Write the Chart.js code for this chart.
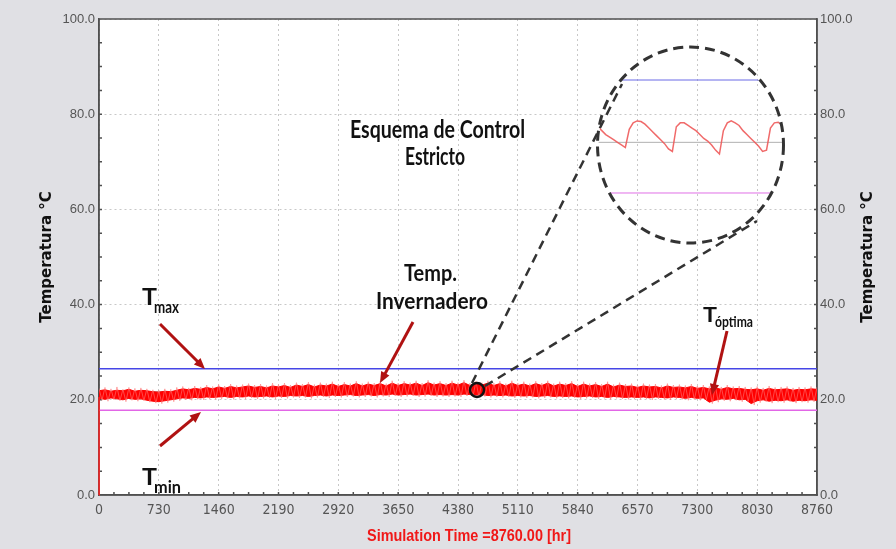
<!DOCTYPE html>
<html>
<head>
<meta charset="utf-8">
<script src="https://cdn.jsdelivr.net/npm/chart.js@4.4.1/dist/chart.umd.min.js"></script>
<style>
  html, body { margin: 0; padding: 0; background: #e0e0e4; }
  #wrap { position: relative; width: 896px; height: 549px; }
  #main { position: absolute; left: 0; top: 0; }
  #zoom { position: absolute; left: 592px; top: 40px; }
</style>
</head>
<body>
<div id="wrap">
  <canvas id="main" width="896" height="549"></canvas>
  <canvas id="zoom" width="200" height="210"></canvas>
</div>
<script>
// greenhouse temperature, one sample every 73 h (envelope of the hourly trace)
const sampleStep = 73;
const tempHigh = [
  21.9, 22.1, 21.8, 22.0, 21.9, 22.2, 21.8, 22.0, 21.9, 21.7,
  21.6, 21.8, 21.7, 22.0, 22.3, 22.1, 22.4, 22.2, 22.6, 22.3,
  22.7, 22.4, 22.8, 22.5, 22.7, 22.9, 22.6, 22.8, 22.5, 22.9,
  22.7, 23.0, 22.6, 23.1, 22.8, 23.2, 22.7, 23.1, 22.9, 23.3,
  22.8, 23.2, 22.9, 23.4, 22.9, 23.3, 23.0, 23.4, 22.9, 23.5,
  23.0, 23.4, 23.1, 23.5, 23.0, 23.6, 23.1, 23.4, 23.0, 23.5,
  23.1, 23.6, 23.0, 23.4, 23.1, 23.5, 23.0, 23.4, 22.9, 23.5,
  23.0, 23.3, 22.9, 23.4, 23.0, 23.5, 22.9, 23.3, 23.0, 23.4,
  22.8, 23.3, 22.9, 23.2, 22.8, 23.3, 22.7, 23.1, 22.8, 22.9,
  22.6, 22.9, 22.7, 22.8, 22.5, 22.9, 22.6, 22.7, 22.5, 22.8,
  22.4, 22.6, 22.3, 22.5, 22.2, 22.6, 22.3, 22.4, 22.2, 22.1,
  22.3, 22.0, 22.4, 22.1, 22.2, 22.3, 22.0, 22.2, 22.1, 22.3, 22.2
];
const tempLow = [
  20.3, 20.1, 20.4, 20.2, 20.0, 20.3, 20.1, 20.2, 19.9, 19.7,
  19.6, 19.8, 20.0, 20.2, 20.4, 20.3, 20.5, 20.4, 20.6, 20.5,
  20.6, 20.7, 20.5, 20.7, 20.6, 20.8, 20.6, 20.7, 20.8, 20.6,
  20.8, 20.7, 20.9, 20.8, 20.9, 20.7, 20.9, 21.0, 20.8, 21.0,
  20.9, 21.0, 21.1, 20.9, 21.0, 21.1, 20.9, 21.1, 21.0, 21.2,
  21.0, 21.1, 21.2, 21.0, 21.1, 21.2, 21.0, 21.1, 21.0, 21.1,
  21.0, 21.2, 21.1, 21.0, 21.1, 20.9, 21.0, 20.9, 21.0, 20.8,
  20.9, 20.8, 20.9, 20.7, 20.8, 20.9, 20.7, 20.8, 20.7, 20.8,
  20.6, 20.7, 20.8, 20.6, 20.7, 20.5, 20.7, 20.6, 20.5, 20.6,
  20.5, 20.6, 20.4, 20.6, 20.5, 20.4, 20.6, 20.5, 20.3, 20.5,
  20.3, 20.4, 19.5, 19.9, 20.2, 20.1, 20.3, 20.0, 20.1, 19.2,
  19.8, 20.0, 19.7, 19.9, 19.8, 20.0, 19.7, 19.9, 19.8, 20.0, 19.9
];
// lighter spikes of the hourly trace (daily peaks and dips)
const spikeHigh = [
  22.4, 22.6, 22.3, 22.7, 22.2, 22.6, 22.4, 22.5, 22.3, 22.1,
  22.0, 22.3, 22.2, 22.6, 22.8, 22.5, 22.9, 22.7, 23.1, 22.8,
  23.2, 22.9, 23.3, 23.0, 23.2, 23.4, 23.1, 23.3, 23.0, 23.5,
  23.2, 23.5, 23.1, 23.6, 23.3, 23.7, 23.2, 23.6, 23.4, 23.8,
  23.3, 23.7, 23.4, 23.9, 23.4, 23.8, 23.5, 23.9, 23.4, 24.0,
  23.5, 23.9, 23.6, 24.0, 23.5, 24.1, 23.6, 23.9, 23.5, 24.0,
  23.6, 24.1, 23.5, 23.9, 23.6, 24.0, 23.5, 23.9, 23.4, 24.0,
  23.5, 23.8, 23.4, 23.9, 23.5, 24.0, 23.4, 23.8, 23.5, 23.9,
  23.3, 23.8, 23.4, 23.7, 23.3, 23.8, 23.2, 23.6, 23.3, 23.4,
  23.1, 23.4, 23.2, 23.3, 23.0, 23.4, 23.1, 23.2, 23.0, 23.3,
  22.9, 23.1, 22.8, 23.0, 22.7, 23.1, 22.8, 22.9, 22.7, 22.6,
  22.8, 22.5, 22.9, 22.6, 22.7, 22.8, 22.5, 22.7, 22.6, 22.8, 22.7
];
const spikeLow = [
  19.9, 19.7, 20.0, 19.8, 19.6, 19.9, 19.7, 19.8, 19.5, 19.3,
  19.2, 19.4, 19.6, 19.8, 20.0, 19.9, 20.1, 20.0, 20.2, 20.1,
  20.2, 20.3, 20.1, 20.3, 20.2, 20.4, 20.2, 20.3, 20.4, 20.2,
  20.4, 20.3, 20.5, 20.4, 20.5, 20.3, 20.5, 20.6, 20.4, 20.6,
  20.5, 20.6, 20.7, 20.5, 20.6, 20.7, 20.5, 20.7, 20.6, 20.8,
  20.6, 20.7, 20.8, 20.6, 20.7, 20.8, 20.6, 20.7, 20.6, 20.7,
  20.6, 20.8, 20.7, 20.6, 20.7, 20.5, 20.6, 20.5, 20.6, 20.4,
  20.5, 20.4, 20.5, 20.3, 20.4, 20.5, 20.3, 20.4, 20.3, 20.4,
  20.2, 20.3, 20.4, 20.2, 20.3, 20.1, 20.3, 20.2, 20.1, 20.2,
  20.1, 20.2, 20.0, 20.2, 20.1, 20.0, 20.2, 20.1, 19.9, 20.1,
  19.9, 20.0, 19.2, 19.5, 19.8, 19.7, 19.9, 19.6, 19.7, 18.9,
  19.4, 19.6, 19.3, 19.5, 19.4, 19.6, 19.3, 19.5, 19.4, 19.6, 19.5
];
// simulation starts from 0 °C
const startHours = [0, 1];
const startTemps = [0, 20.6];

const tMax = 26.5;
const tMin = 17.8;
const tOpt = 21.7;
const simHours = 8760;

// zoomed view: four days around hour 4600
const insetHours = [
  0, 2, 4, 6, 8, 10, 12, 14, 16, 18, 20, 22, 24, 26, 28, 30,
  32, 34, 36, 38, 40, 42, 44, 46, 48, 50, 52, 54, 56, 58, 60, 62,
  64, 66, 68, 70, 72, 74, 76, 78, 80, 82, 84, 86, 88, 90, 92, 94
];
const insetTemps = [
  22.9, 22.6, 22.3, 22.1, 21.9, 21.7, 21.5, 21.3, 22.7, 23.2, 23.35, 23.3, 23.1, 22.8, 22.5, 22.2,
  21.9, 21.6, 21.2, 21.0, 22.9, 23.2, 23.2, 23.0, 22.8, 22.6, 22.3, 22.0, 21.8, 21.5, 21.1, 20.8,
  22.6, 23.2, 23.35, 23.2, 23.0, 22.6, 22.3, 22.0, 21.7, 21.4, 21.0, 21.1, 22.8, 23.2, 23.25, 23.0
];

const sampleHours = tempHigh.map((_, i) => i * sampleStep);
const pts = (xs, ys) => xs.map((x, i) => ({ x, y: ys[i] }));
const flat = (v, x0, x1) => [{ x: x0, y: v }, { x: x1, y: v }];
// peaks and dips alternate half a step apart, like the hourly trace
const spikeTrace = [];
sampleHours.forEach((h, i) => {
  spikeTrace.push({ x: h, y: spikeHigh[i] });
  spikeTrace.push({ x: h + sampleStep / 2, y: spikeLow[i] });
});

const axisColor = '#505050';
const tickColor = '#555555';
const darkRed = '#b01212';
const narrowFont = '"Liberation Sans Narrow", "DejaVu Sans Condensed", "Liberation Sans", sans-serif';

function fitText(ctx, txt, left, base, width, size, color, family) {
  ctx.save();
  ctx.font = 'bold ' + size + 'px ' + (family || 'Lato, "Liberation Sans", sans-serif');
  const m = ctx.measureText(txt).width;
  ctx.translate(left, base);
  ctx.scale(width / m, 1);
  ctx.textAlign = 'left';
  ctx.textBaseline = 'alphabetic';
  ctx.fillStyle = color || '#111';
  ctx.fillText(txt, 0, 0);
  ctx.restore();
}

function arrow(ctx, x1, y1, x2, y2) {
  const a = Math.atan2(y2 - y1, x2 - x1);
  const h = 12;
  ctx.save();
  ctx.strokeStyle = darkRed;
  ctx.fillStyle = darkRed;
  ctx.lineWidth = 3;
  ctx.beginPath();
  ctx.moveTo(x1, y1);
  ctx.lineTo(x2 - Math.cos(a) * h * 0.7, y2 - Math.sin(a) * h * 0.7);
  ctx.stroke();
  ctx.beginPath();
  ctx.moveTo(x2, y2);
  ctx.lineTo(x2 - h * Math.cos(a - 0.4), y2 - h * Math.sin(a - 0.4));
  ctx.lineTo(x2 - h * Math.cos(a + 0.4), y2 - h * Math.sin(a + 0.4));
  ctx.closePath();
  ctx.fill();
  ctx.restore();
}

const decor = {
  id: 'decor',
  beforeDraw(chart) {
    const { ctx, chartArea: a } = chart;
    ctx.save();
    ctx.fillStyle = '#e0e0e4';
    ctx.fillRect(0, 0, chart.width, chart.height);
    ctx.fillStyle = '#ffffff';
    ctx.fillRect(a.left, a.top, a.right - a.left, a.bottom - a.top);
    ctx.restore();
  },
  beforeDatasetsDraw(chart) {
    const { ctx, chartArea: a } = chart;
    const xs = chart.scales.x, ys = chart.scales.y;
    ctx.save();
    // frame and minor ticks
    ctx.strokeStyle = axisColor;
    ctx.lineWidth = 1.5;
    ctx.strokeRect(a.left, a.top, a.right - a.left, a.bottom - a.top);
    ctx.beginPath();
    for (let v = 5; v < 100; v += 5) {
      const py = ys.getPixelForValue(v);
      ctx.moveTo(a.left, py); ctx.lineTo(a.left + 3, py);
      ctx.moveTo(a.right - 3, py); ctx.lineTo(a.right, py);
    }
    for (let h = 182.5; h < simHours; h += 182.5) {
      const px = xs.getPixelForValue(h);
      ctx.moveTo(px, a.bottom); ctx.lineTo(px, a.bottom - 3);
    }
    ctx.stroke();
    ctx.restore();
  },
  afterDraw(chart) {
    const { ctx, chartArea: a } = chart;
    // right axis title (reads bottom to top like the left one)
    ctx.save();
    ctx.translate(868, (a.top + a.bottom) / 2);
    ctx.rotate(-Math.PI / 2);
    ctx.font = 'bold 15px "DejaVu Sans", sans-serif';
    ctx.fillStyle = '#111';
    ctx.textAlign = 'center';
    ctx.textBaseline = 'middle';
    ctx.fillText('Temperatura °C', 0, 0);
    ctx.restore();

    // x axis title, condensed red
    fitText(ctx, 'Simulation Time =8760.00 [hr]', 367, 541, 204, 16, '#f01818', '"Liberation Sans", sans-serif');

    // labels
    fitText(ctx, 'Esquema de Control', 350, 138, 175, 25);
    fitText(ctx, 'Estricto', 405, 165, 60, 25);
    fitText(ctx, 'Temp.', 404, 281, 53, 23);
    fitText(ctx, 'Invernadero', 376, 309, 112, 23);
    fitText(ctx, 'T', 142, 305, 15, 22);
    fitText(ctx, 'max', 154, 313, 25, 17);
    fitText(ctx, 'T', 142, 485, 15, 22);
    fitText(ctx, 'min', 154, 493, 27, 17);
    fitText(ctx, 'T', 703, 322, 14, 21);
    fitText(ctx, 'óptima', 715, 327, 38, 15);

    // arrows to the curves
    arrow(ctx, 160, 324, 205, 369);
    arrow(ctx, 160, 446, 201, 412);
    arrow(ctx, 413, 322, 380, 383);
    arrow(ctx, 727, 331, 712, 395);

    // small marker and dashed zoom guides
    ctx.save();
    ctx.strokeStyle = '#111';
    ctx.lineWidth = 2.5;
    ctx.beginPath();
    ctx.arc(477, 390, 7, 0, Math.PI * 2);
    ctx.stroke();
    ctx.strokeStyle = '#333';
    ctx.setLineDash([9, 6]);
    ctx.beginPath();
    ctx.moveTo(472, 383); ctx.lineTo(622, 84);
    ctx.moveTo(485, 386); ctx.lineTo(757, 221);
    ctx.stroke();
    ctx.restore();
  }
};

const mainChart = new Chart(document.getElementById('main'), {
  type: 'line',
  data: {
    datasets: [
      { data: pts(startHours, startTemps), borderColor: '#ff2020', borderWidth: 1.5, clip: 2 },
      { data: spikeTrace, borderColor: 'rgba(255,120,120,0.6)', borderWidth: 1 },
      { data: pts(sampleHours, tempHigh), borderColor: '#ff0000', borderWidth: 1, backgroundColor: '#ff0000', fill: '+1' },
      { data: pts(sampleHours, tempLow), borderColor: '#ff0000', borderWidth: 1 },
      { data: flat(tMax, 0, simHours), borderColor: '#4646e6', borderWidth: 1.5 },
      { data: flat(tMin, 0, simHours), borderColor: '#e266e6', borderWidth: 1.5 },
      { data: flat(tOpt, 0, simHours), borderColor: '#a0a0a0', borderWidth: 1 }
    ]
  },
  options: {
    responsive: false,
    animation: false,
    events: [],
    layout: { padding: { top: 19, left: 0, right: 0, bottom: 0 } },
    elements: { point: { radius: 0 }, line: { tension: 0 } },
    plugins: { legend: { display: false }, tooltip: { enabled: false } },
    scales: {
      x: {
        type: 'linear', min: 0, max: simHours,
        afterFit: s => { s.height = 54; },
        ticks: {
          stepSize: 730, color: tickColor, padding: 7, maxRotation: 0, autoSkip: false,
          callback: v => String(v),
          font: { family: narrowFont, size: 14 }
        },
        grid: { color: '#c8c8c8', lineWidth: 1, drawTicks: false },
        border: { display: true, color: axisColor, width: 1.5, dash: [2, 3] },
        title: { display: false, text: 'Simulation Time =8760.00 [hr]' }
      },
      y: {
        type: 'linear', position: 'left', min: 0, max: 100,
        afterFit: s => { s.width = 99; },
        ticks: {
          stepSize: 20, color: tickColor, padding: 4,
          callback: v => v.toFixed(1),
          font: { family: '"Liberation Sans", Arial, sans-serif', size: 13 }
        },
        grid: { color: '#c8c8c8', lineWidth: 1, drawTicks: false },
        border: { display: true, color: axisColor, width: 1.5, dash: [2, 3] },
        title: {
          display: true, text: 'Temperatura °C', color: '#111',
          padding: { top: 38, bottom: 0 },
          font: { family: '"DejaVu Sans", sans-serif', size: 15, weight: 'bold' }
        }
      },
      y2: {
        type: 'linear', position: 'right', min: 0, max: 100,
        afterFit: s => { s.width = 79; },
        ticks: {
          stepSize: 20, color: tickColor, padding: 3,
          callback: v => v.toFixed(1),
          font: { family: '"Liberation Sans", Arial, sans-serif', size: 13 }
        },
        grid: { display: false, drawTicks: false },
        border: { display: true, color: axisColor, width: 1.5 }
      }
    }
  },
  plugins: [decor]
});

// zoomed inset inside the dashed circle
const lens = { cx: 98.5, cy: 105, rx: 93, ry: 98 };
const lensPlugin = {
  id: 'lens',
  beforeDatasetsDraw(chart) {
    const ctx = chart.ctx;
    ctx.save();
    ctx.beginPath();
    ctx.ellipse(lens.cx, lens.cy, lens.rx - 1, lens.ry - 1, 0, 0, Math.PI * 2);
    ctx.clip();
  },
  afterDatasetsDraw(chart) {
    chart.ctx.restore();
  },
  afterDraw(chart) {
    const ctx = chart.ctx;
    ctx.save();
    ctx.strokeStyle = '#333';
    ctx.lineWidth = 3;
    ctx.setLineDash([10, 6]);
    ctx.beginPath();
    ctx.ellipse(lens.cx, lens.cy, lens.rx, lens.ry, 0, 0, Math.PI * 2);
    ctx.stroke();
    ctx.restore();
  }
};

const insetChart = new Chart(document.getElementById('zoom'), {
  type: 'line',
  data: {
    datasets: [
      { data: pts(insetHours, insetTemps), borderColor: 'rgba(238,90,90,0.9)', borderWidth: 1.5 },
      { data: flat(tMax, -3, 99), borderColor: '#6a6ae6', borderWidth: 1 },
      { data: flat(tMin, -3, 99), borderColor: '#e070e6', borderWidth: 1 },
      { data: flat(tOpt, -1, 94), borderColor: '#b0b0b0', borderWidth: 1 }
    ]
  },
  options: {
    responsive: false,
    animation: false,
    events: [],
    layout: { padding: 0 },
    elements: { point: { radius: 0 }, line: { tension: 0 } },
    plugins: { legend: { display: false }, tooltip: { enabled: false } },
    scales: {
      x: { type: 'linear', display: false, min: -3, max: 99 },
      y: { type: 'linear', display: false, min: 13.41, max: 29.58 }
    }
  },
  plugins: [lensPlugin]
});
</script>
</body>
</html>
